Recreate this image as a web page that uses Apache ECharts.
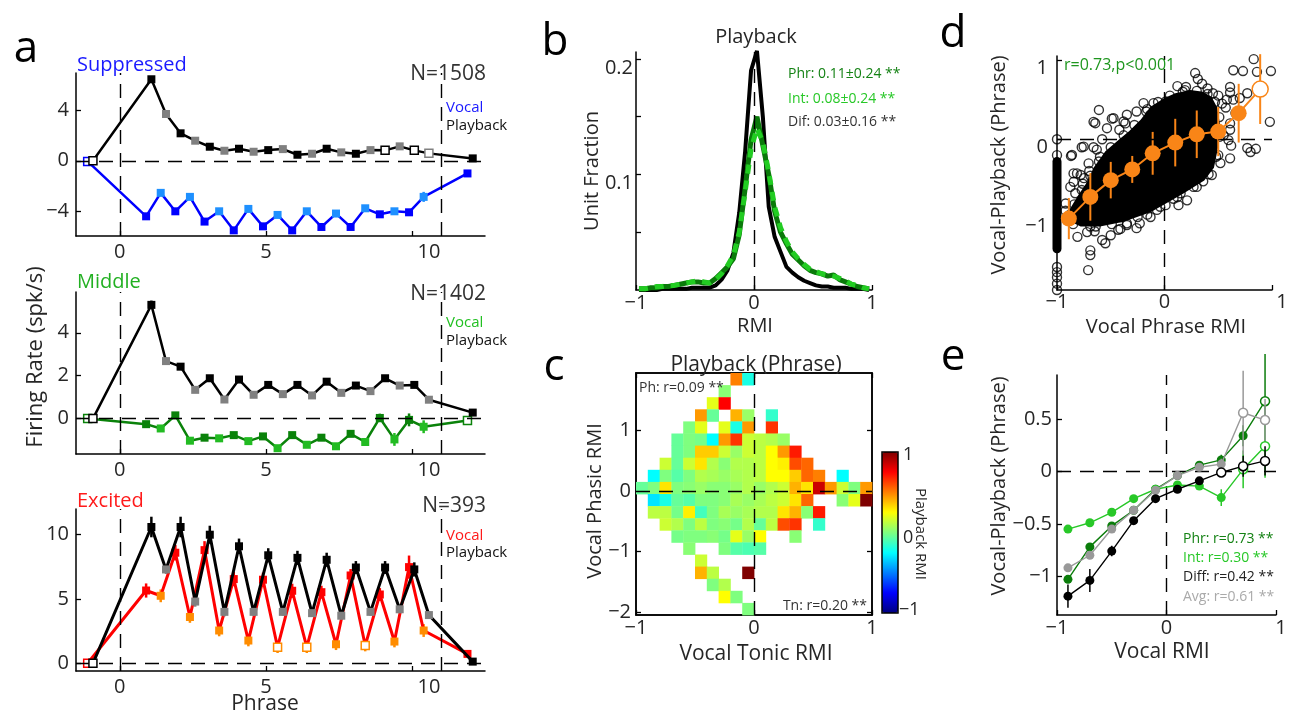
<!DOCTYPE html>
<html>
<head>
<meta charset="utf-8">
<title>Vocal vs playback responses</title>
<script src="https://cdn.jsdelivr.net/npm/echarts@6.0.0/dist/echarts.min.js"></script>
<style>
  html, body { margin: 0; padding: 0; background: #fff; }
  #chart { width: 1290px; height: 715px; }
</style>
</head>
<body>
<div id="chart"></div>
<script>
const _ = null;

// ---------- panel a : firing rate per phrase ----------
const phraseX = [-1, 1, 1.5, 2, 2.5, 3, 3.5, 4, 4.5, 5, 5.5, 6, 6.5, 7, 7.5, 8, 8.5, 9, 9.5, 10, 10.5, 12];
const xTicksA = [0, 5, 10];
const songEndX = 11;

const supPlayback    = [0, 6.5, 3.73, 2.19, 1.6, 1.12, 0.8, 0.96, 0.72, 0.85, 0.93, 0.48, 0.56, 0.96, 0.67, 0.56, 0.85, 0.83, 1.15, 0.83, 0.59, 0.19];
const supPlaybackErr = [0.1, 0.25, 0.2, 0.15, 0.12, 0.12, 0.1, 0.1, 0.1, 0.1, 0.1, 0.1, 0.1, 0.1, 0.1, 0.1, 0.1, 0.1, 0.1, 0.1, 0.15, 0.15];
const supPlaybackOpen = [0, 17, 19, 20];
const supVocal    = [-0.05, -4.43, -2.56, -4.03, -2.88, -4.85, -4.03, -5.55, -3.84, -5.23, -4.32, -5.55, -4.03, -5.28, -4.21, -5.28, -3.79, -4.27, -4.03, -4.11, -2.88, -1.01];
const supVocalErr = [0.15, 0.25, 0.2, 0.2, 0.2, 0.2, 0.2, 0.2, 0.2, 0.2, 0.2, 0.2, 0.2, 0.2, 0.2, 0.2, 0.2, 0.25, 0.2, 0.25, 0.4, 0.2];
const supVocalOpen = [0];
const supTicks = [-4, 0, 4];

const midPlayback    = [0, 5.3, 2.68, 2.42, 1.34, 1.88, 0.89, 1.82, 1.11, 1.57, 1.14, 1.57, 1.08, 1.72, 1.2, 1.54, 1.28, 1.88, 1.54, 1.57, 0.88, 0.28];
const midPlaybackErr = [0.1, 0.2, 0.15, 0.15, 0.12, 0.12, 0.1, 0.12, 0.1, 0.1, 0.1, 0.1, 0.1, 0.1, 0.1, 0.1, 0.1, 0.1, 0.1, 0.1, 0.12, 0.12];
const midPlaybackOpen = [0];
const midVocal    = [0, -0.26, -0.46, 0.15, -1.03, -0.89, -0.92, -0.77, -1.05, -0.83, -1.38, -0.77, -1.22, -0.89, -1.29, -0.71, -1.09, 0.03, -0.97, -0.06, -0.38, -0.09];
const midVocalErr = [0.15, 0.12, 0.12, 0.15, 0.12, 0.12, 0.12, 0.12, 0.12, 0.12, 0.15, 0.12, 0.12, 0.12, 0.12, 0.12, 0.15, 0.2, 0.3, 0.3, 0.3, 0.12];
const midVocalOpen = [0, 21];
const midTicks = [0, 2, 4];

const excPlayback    = [0, 10.6, 7.3, 10.6, 4.8, 10.0, 4.0, 9.1, 4.0, 8.4, 4.0, 8.2, 3.9, 8.05, 3.7, 7.45, 4.0, 7.45, 4.2, 7.3, 3.75, 0.13];
const excPlaybackErr = [0.2, 0.8, 0.35, 0.8, 0.4, 0.7, 0.35, 0.6, 0.3, 0.55, 0.3, 0.55, 0.3, 0.55, 0.3, 0.5, 0.3, 0.5, 0.3, 0.55, 0.3, 0.15];
const excPlaybackOpen = [0];
const excVocal    = [0, 5.66, 5.25, 8.6, 3.6, 8.8, 2.55, 6.55, 1.77, 6.5, 1.25, 5.64, 1.25, 5.53, 1.48, 6.83, 1.38, 5.35, 1.69, 7.48, 2.55, 0.73];
const excVocalErr = [0.3, 0.55, 0.5, 0.6, 0.45, 0.7, 0.45, 0.55, 0.45, 0.55, 0.45, 0.55, 0.45, 0.5, 0.45, 0.5, 0.45, 0.5, 0.45, 0.9, 0.5, 0.2];
const excVocalOpen = [0, 10, 12, 16];
const excTicks = [0, 5, 10];

// ---------- panel b : RMI distributions ----------
const rmiX = [-0.975, -0.925, -0.875, -0.825, -0.775, -0.725, -0.675, -0.625, -0.575, -0.525,
              -0.475, -0.425, -0.375, -0.325, -0.275, -0.225, -0.175, -0.125, -0.075, -0.025,
               0.025,  0.075,  0.125,  0.175,  0.225,  0.275,  0.325,  0.375,  0.425,  0.475,
               0.525,  0.575,  0.625,  0.675,  0.725,  0.775,  0.825,  0.875,  0.925,  0.975];
const difFrac = [0, 0, 0, 0, 0.001, 0.001, 0.001, 0.001, 0.001, 0.002,
                 0.002, 0.002, 0.002, 0.004, 0.009, 0.017, 0.032, 0.067, 0.12, 0.19,
                 0.207, 0.15, 0.072, 0.046, 0.033, 0.02, 0.015, 0.011, 0.008, 0.006,
                 0.004, 0.003, 0.003, 0.002, 0.002, 0.002, 0.001, 0.001, 0.001, 0];
const phrFrac = [0.001, 0.001, 0.002, 0.002, 0.003, 0.003, 0.004, 0.005, 0.006, 0.007,
                 0.007, 0.006, 0.006, 0.01, 0.015, 0.02, 0.027, 0.048, 0.088, 0.13,
                 0.15, 0.125, 0.1, 0.068, 0.05, 0.04, 0.031, 0.026, 0.021, 0.017,
                 0.015, 0.014, 0.012, 0.013, 0.009, 0.007, 0.005, 0.003, 0.002, 0.001];
const intFrac = [0.001, 0.001, 0.002, 0.003, 0.003, 0.004, 0.004, 0.005, 0.006, 0.007,
                 0.008, 0.007, 0.006, 0.009, 0.014, 0.021, 0.03, 0.05, 0.085, 0.122,
                 0.14, 0.128, 0.102, 0.072, 0.054, 0.042, 0.033, 0.027, 0.022, 0.018,
                 0.016, 0.014, 0.013, 0.012, 0.01, 0.008, 0.005, 0.004, 0.002, 0.001];

// ---------- panel c : tonic x phasic map ----------
const heatX = [-0.95, -0.85, -0.75, -0.65, -0.55, -0.45, -0.35, -0.25, -0.15, -0.05,
                0.05,  0.15,  0.25,  0.35,  0.45,  0.55,  0.65,  0.75,  0.85,  0.95];
const heatY = [1.85, 1.65, 1.45, 1.25, 1.05, 0.85, 0.65, 0.45, 0.25, 0.05,
               -0.15, -0.35, -0.55, -0.75, -0.95, -1.15, -1.35, -1.55, -1.75, -1.95];
const heatCell = [0.1, 0.2];
const heatVals = [
  [_,_,_,_,_,_,_,_,0.5,-0.2,_,_,_,_,_,_,_,_,_,_],
  [_,_,_,_,_,_,_,0.02,_,_,_,_,_,_,_,_,_,_,_,_],
  [_,_,_,_,_,_,0.2,0.75,_,_,_,_,_,_,_,_,_,_,_,_],
  [_,_,_,_,_,0.45,-0.05,_,0.4,0.05,_,-0.15,_,_,_,_,_,_,_,_],
  [_,_,_,_,0,0.2,_,0.2,-0.2,0.45,_,0.65,_,_,_,_,_,_,_,_],
  [_,_,_,-0.05,0,-0.02,-0.25,0.45,0.65,0.15,0.12,0.1,0.05,_,_,_,_,_,_,_],
  [_,_,_,-0.05,0,0.35,0.35,0.15,0.05,0.15,0.12,0.25,0.45,0.7,_,_,_,_,_,_],
  [_,_,0.15,-0.05,0.15,0.3,0.1,0.02,0.1,0.1,0.12,0.25,0.28,0.6,0.55,_,_,_,_,_],
  [_,-0.25,0,-0.08,0,0.1,0.08,0.05,0.08,0.1,0.12,0.25,0.25,0.35,0.55,0.5,_,-0.25,_,_],
  [-0.05,0,0.3,0,0.02,0.05,0.02,0.02,0.05,0.1,0.05,0.1,0.15,0.4,0.3,0.85,0.45,0.15,0,0.45],
  [_,-0.3,-0.2,-0.05,-0.08,0,0,0.02,0.08,0.05,0.08,0.12,0.15,0.3,0.55,_,_,0.02,0.2,1.0],
  [_,0.12,0.12,-0.02,0.28,-0.12,0,0.08,0.05,0.08,0.1,0.1,0.3,0.4,0.02,0.7,_,_,_,_],
  [_,_,0.15,0.1,0,0.12,0,0.02,-0.02,0.1,-0.05,0.12,0.6,0.65,_,-0.15,_,_,_,_],
  [_,_,_,-0.02,0,0,0.02,-0.02,0.2,0.05,0.25,_,_,0.02,_,_,_,_,_,_],
  [_,_,_,_,0.02,_,_,0,-0.08,-0.1,-0.08,_,_,_,_,_,_,_,_,_],
  [_,_,_,_,_,0.15,_,_,_,_,_,_,_,_,_,_,_,_,_,_],
  [_,_,_,_,_,0.4,0.12,_,_,1.0,_,_,_,_,_,_,_,_,_,_],
  [_,_,_,_,_,_,0,0.1,_,_,_,_,_,_,_,_,_,_,_,_],
  [_,_,_,_,_,_,_,0.25,0,_,_,_,_,_,_,_,_,_,_,_],
  [_,_,_,_,_,_,_,_,_,0,_,_,_,_,_,_,_,_,_,_]
];
const jet = ['#00007F', '#0000FF', '#007FFF', '#00FFFF', '#7FFF7F', '#FFFF00', '#FF7F00', '#FF0000', '#7F0000'];

// ---------- panel d : vocal vs vocal-playback ----------
// dense core of the cloud (outline) and the column of units at RMI = -1
const dDenseOutline = [
  [-0.90, -1.02], [-0.89, -0.90], [-0.81, -0.72], [-0.72, -0.54], [-0.66, -0.36], [-0.55, -0.15],
  [-0.42, 0.0], [-0.33, 0.10], [-0.22, 0.25], [-0.13, 0.41], [0.00, 0.52], [0.10, 0.58],
  [0.24, 0.62], [0.36, 0.60], [0.44, 0.53], [0.49, 0.40], [0.52, 0.16], [0.50, -0.09],
  [0.46, -0.36], [0.37, -0.52], [0.18, -0.68], [0.05, -0.78], [-0.13, -0.92], [-0.38, -1.04],
  [-0.60, -1.10], [-0.78, -1.10]
];
const dColumnSpan = [[-1, -0.28], [-1, -1.38]];
const dUnits = [
  // top / right
  [0.81, 1.07], [0.83, 1.01], [0.64, 0.87], [0.73, 0.86], [0.86, 0.85], [0.99, 0.86], [0.98, 0.22],
  [0.285, 0.835], [0.31, 0.76], [0.35, 0.70], [0.12, 0.67], [0.19, 0.62], [0.61, 0.66], [0.61, 0.59],
  [0.58, 0.50], [0.64, 0.50], [0.70, 0.52], [0.77, 0.58], [0.535, 0.45], [0.57, 0.40], [0.66, 0.33],
  [0.61, 0.20], [0.61, 0.12], [0.595, -0.01], [0.62, -0.08], [0.77, -0.11], [0.85, -0.12],
  [0.80, -0.16], [0.61, -0.24], [0.52, -0.30], [0.44, -0.45], [0.36, -0.53], [0.30, -0.60],
  [0.15, -0.68], [0.13, -0.83], [0.01, -0.83], [0.084, -0.75], [0.21, -0.77],
  // bottom / left
  [-0.07, -0.89], [-0.13, -0.98], [-0.16, -0.95], [-0.23, -1.06], [-0.26, -1.12], [-0.35, -1.08],
  [-0.43, -1.14], [-0.50, -1.21], [-0.55, -1.31], [-0.58, -1.27], [-0.64, -1.10], [-0.72, -1.17],
  [-0.81, -1.23], [-0.69, -1.40], [-0.69, -1.46], [-0.71, -1.65], [-0.41, -1.13], [-0.41, -0.98],
  [-0.92, -0.81], [-0.83, -0.68], [-0.876, -0.60], [-0.845, -0.536], [-0.846, -0.43], [-0.78, -0.45],
  [-0.75, -0.49], [-0.814, -0.43], [-0.706, -0.304], [-0.861, -0.198], [-0.87, -0.21], [-0.77, -0.10],
  [-0.752, -0.093], [-0.63, -0.13], [-0.66, -0.10], [-0.58, 0.0],
  [-0.61, 0.37], [-0.644, 0.203], [-0.66, 0.22], [-0.49, 0.26], [-0.535, 0.14], [-0.474, 0.266],
  [-0.42, 0.12], [-0.365, 0.20], [-0.35, 0.31], [-0.26, 0.35], [-0.195, 0.456], [-0.133, 0.308],
  [-0.102, 0.456], [0.012, 0.477], [-0.381, 0.224],
  // ragged edge of the dense core
  [-0.88, -0.95], [-0.84, -0.82], [-0.77, -0.64], [-0.69, -0.46], [-0.61, -0.28], [-0.50, -0.10],
  [-0.38, 0.05], [-0.28, 0.18], [-0.17, 0.35], [-0.06, 0.47], [0.05, 0.55], [0.17, 0.60],
  [0.30, 0.61], [0.40, 0.57], [0.47, 0.47], [0.51, 0.28], [0.51, 0.03], [0.48, -0.22],
  [0.41, -0.44], [0.27, -0.60], [0.12, -0.73], [-0.04, -0.85], [-0.25, -0.98], [-0.49, -1.07],
  [-0.69, -1.10], [-0.85, -1.07], [0.45, 0.58], [0.50, 0.55], [0.40, 0.64], [0.20, 0.66],
  [0.55, 0.05], [0.50, -0.20], [-0.35, -1.06], [-0.65, -1.16], [-0.92, -0.90], [-0.76, -0.56],
  [-0.70, -0.40], [-0.60, -0.22], [-0.16, 0.38],
  // column at RMI = -1
  [-1, 0], [-1, -0.2], [-1, -1.61], [-1, -1.675], [-1, -1.74], [-1, -1.82], [-1, -1.9]
];
const dBinX   = [-0.89, -0.69, -0.5, -0.3, -0.11, 0.1, 0.3, 0.5, 0.69, 0.89];
const dBinY   = [-1.0, -0.726, -0.515, -0.38, -0.177, -0.042, 0.063, 0.097, 0.329, 0.633];
const dBinErr = [0.26, 0.3, 0.23, 0.17, 0.27, 0.3, 0.3, 0.31, 0.37, 0.44];
const dBinOpen = [9];

// ---------- panel e : binned means ----------
const eX = [-0.9, -0.7, -0.5, -0.3, -0.1, 0.1, 0.3, 0.5, 0.7, 0.9];
const phrMean  = [-1.03, -0.72, -0.52, -0.37, -0.17, -0.04, 0.06, 0.11, 0.34, 0.67];
const phrErr   = [0.03, 0.03, 0.03, 0.02, 0.02, 0.02, 0.03, 0.05, 0.1, 0.45];
const intMean  = [-0.55, -0.49, -0.39, -0.26, -0.17, -0.13, -0.14, -0.25, 0.02, 0.24];
const intErr   = [0.03, 0.03, 0.03, 0.02, 0.02, 0.02, 0.03, 0.08, 0.18, 0.3];
const diffMean = [-1.19, -1.04, -0.76, -0.47, -0.26, -0.17, -0.09, -0.01, 0.05, 0.10];
const diffErr  = [0.11, 0.11, 0.05, 0.03, 0.02, 0.02, 0.03, 0.04, 0.1, 0.14];
const avgMean  = [-0.92, -0.80, -0.55, -0.37, -0.18, -0.04, 0.04, 0.07, 0.56, 0.49];
const avgErr   = [0.03, 0.03, 0.03, 0.02, 0.02, 0.02, 0.03, 0.05, 0.4, 0.2];
const phrOpen = [9], intOpen = [8, 9], diffOpen = [7, 8, 9], avgOpen = [8, 9];

// ---------- helpers ----------
const FONT = '"Open Sans", "Liberation Sans", sans-serif';
const TICK_COLOR = '#262626';
const VOCAL_SHIFT = -0.1, PLAY_SHIFT = 0.08;
const fmt = v => (v < 0 ? '\u2212' + Math.abs(v) : String(v));
const isInterval = i => i > 0 && i < phraseX.length - 1 && phraseX[i] % 1 !== 0;

// shiftLast: extra left padding on the last tick label (labels in the figure sit right of their tick)
function xAxisFor(g, min, max, ticks, margin, shiftLast) {
  const last = ticks[ticks.length - 1];
  return {
    type: 'value', gridIndex: g, min, max, position: 'bottom',
    splitLine: { show: false },
    axisLine: { show: true, onZero: false, lineStyle: { color: '#000', width: 1.5 } },
    axisTick: { show: true, inside: true, length: 5, customValues: ticks, lineStyle: { color: '#000', width: 1.3 } },
    axisLabel: {
      show: true, customValues: ticks, margin, color: TICK_COLOR, fontSize: 20, fontFamily: FONT,
      formatter: v => (shiftLast && v === last ? '{s|' + fmt(v) + '}' : fmt(v)),
      rich: { s: { padding: [0, 0, 0, shiftLast || 0], color: TICK_COLOR, fontSize: 20, fontFamily: FONT } }
    }
  };
}
// drop: pushes tick labels a few pixels below their tick
function yAxisFor(g, min, max, ticks, margin, drop) {
  const label = { show: true, customValues: ticks, margin, formatter: fmt, color: TICK_COLOR, fontSize: 20, fontFamily: FONT };
  if (drop) { label.verticalAlign = 'top'; label.lineHeight = drop * 2; }
  return {
    type: 'value', gridIndex: g, min, max, position: 'left',
    splitLine: { show: false },
    axisLine: { show: true, onZero: false, lineStyle: { color: '#000', width: 1.5 } },
    axisTick: { show: true, inside: true, length: 5, customValues: ticks, lineStyle: { color: '#000', width: 1.3 } },
    axisLabel: label
  };
}
function refLines(g, xs, ys, z) {
  return {
    type: 'line', xAxisIndex: g, yAxisIndex: g, data: [], z, silent: true,
    markLine: {
      silent: true, symbol: 'none', animation: false, label: { show: false }, emphasis: { disabled: true },
      lineStyle: { color: '#000', width: 1.4, type: [14, 9] },
      data: xs.map(v => ({ xAxis: v })).concat(ys.map(v => ({ yAxis: v })))
    }
  };
}
function errBars(g, xs, ys, errs, colors, width, z) {
  return {
    type: 'custom', xAxisIndex: g, yAxisIndex: g, z: z || 2, silent: true,
    data: xs.map((x, i) => [x, ys[i], errs[i]]),
    renderItem: (params, api) => {
      const x = api.value(0), y = api.value(1), e = api.value(2);
      const lo = api.coord([x, y - e]), hi = api.coord([x, y + e]);
      return { type: 'line', shape: { x1: lo[0], y1: lo[1], x2: hi[0], y2: hi[1] },
               style: { stroke: colors[params.dataIndex], lineWidth: width } };
    }
  };
}
function trace(g, xs, ys, colors, openIdx, lineColor, lineWidth, symbol, size, z) {
  return {
    type: 'line', xAxisIndex: g, yAxisIndex: g, z: z || 3, silent: true,
    symbol, symbolSize: size, showAllSymbol: true,
    lineStyle: { color: lineColor, width: lineWidth }, emphasis: { disabled: true },
    data: xs.map((x, i) => ({
      value: [x, ys[i]],
      itemStyle: openIdx.includes(i)
        ? { color: '#fff', borderColor: colors[i], borderWidth: 1.5 }
        : { color: colors[i], borderColor: colors[i], borderWidth: 0 }
    }))
  };
}
function txt(x, y, text, size, color, align, rot) {
  return {
    type: 'text', x, y, rotation: rot || 0, silent: true, z: 20,
    style: { text, fill: color || '#222', fontSize: size, fontFamily: FONT,
             textAlign: align || 'left', textVerticalAlign: 'middle', align: align || 'left', verticalAlign: 'middle' }
  };
}

// ---------- series ----------
const series = [];

const aPanels = [
  { g: 0, play: supPlayback, playErr: supPlaybackErr, playOpen: supPlaybackOpen,
    voc: supVocal, vocErr: supVocalErr, vocOpen: supVocalOpen, main: '#0000FF', sec: '#1E90FF', width: 2.5 },
  { g: 1, play: midPlayback, playErr: midPlaybackErr, playOpen: midPlaybackOpen,
    voc: midVocal, vocErr: midVocalErr, vocOpen: midVocalOpen, main: '#0A820A', sec: '#22BB22', width: 2.5 },
  { g: 2, play: excPlayback, playErr: excPlaybackErr, playOpen: excPlaybackOpen,
    voc: excVocal, vocErr: excVocalErr, vocOpen: excVocalOpen, main: '#FF0000', sec: '#FF8C00', width: 3 }
];
aPanels.forEach(p => {
  const vx = phraseX.map(x => x + VOCAL_SHIFT);
  const px = phraseX.map(x => x + PLAY_SHIFT);
  const vCol = phraseX.map((x, i) => (isInterval(i) ? p.sec : p.main));
  const pCol = phraseX.map((x, i) => (isInterval(i) ? '#808080' : '#000'));
  series.push(refLines(p.g, [0, songEndX], [0], 1));
  series.push(errBars(p.g, vx, p.voc, p.vocErr, vCol, 2.5, 2));
  series.push(trace(p.g, vx, p.voc, vCol, p.vocOpen, p.main, p.width, 'rect', 8, 3));
  series.push(errBars(p.g, px, p.play, p.playErr, pCol, 2.5, 4));
  series.push(trace(p.g, px, p.play, pCol, p.playOpen, '#000', p.width, 'rect', 8, 5));
});

// panel b
series.push(refLines(3, [0], [], 1));
series.push({ type: 'line', xAxisIndex: 3, yAxisIndex: 3, z: 3, silent: true, symbol: 'none',
  lineStyle: { color: '#000', width: 4 }, data: rmiX.map((x, i) => [x, difFrac[i]]) });
series.push({ type: 'line', xAxisIndex: 3, yAxisIndex: 3, z: 4, silent: true, symbol: 'none',
  lineStyle: { color: '#0A7A0A', width: 5 }, data: rmiX.map((x, i) => [x, phrFrac[i]]) });
series.push({ type: 'line', xAxisIndex: 3, yAxisIndex: 3, z: 5, silent: true, symbol: 'none',
  lineStyle: { color: '#22CC22', width: 5, type: [9, 7] }, data: rmiX.map((x, i) => [x, intFrac[i]]) });

// panel c
const heatData = [];
heatVals.forEach((row, r) => row.forEach((v, c) => { if (v !== null) heatData.push([heatX[c], heatY[r], v]); }));
const heatSeriesIndex = series.length;
series.push({
  type: 'custom', xAxisIndex: 4, yAxisIndex: 4, z: 2, silent: true, data: heatData,
  renderItem: (params, api) => {
    const tl = api.coord([api.value(0) - heatCell[0] / 2, api.value(1) + heatCell[1] / 2]);
    const sz = api.size(heatCell);
    return { type: 'rect', shape: { x: tl[0], y: tl[1], width: sz[0] + 0.4, height: sz[1] + 0.4 },
             style: { fill: api.visual('color') } };
  }
});
series.push(refLines(4, [0], [0], 6));

// panel d
series.push(refLines(5, [0], [0], 1));
series.push({
  type: 'custom', xAxisIndex: 5, yAxisIndex: 5, z: 2, silent: true, data: [0],
  renderItem: (params, api) => ({ type: 'polygon', shape: { points: dDenseOutline.map(p => api.coord(p)) },
                                   style: { fill: '#000' } })
});
series.push({ type: 'line', xAxisIndex: 5, yAxisIndex: 5, z: 2, silent: true, symbol: 'none',
  lineStyle: { color: '#000', width: 9, cap: 'round' }, data: dColumnSpan });
series.push({ type: 'scatter', xAxisIndex: 5, yAxisIndex: 5, z: 3, silent: true, symbol: 'circle', symbolSize: 9,
  itemStyle: { color: 'rgba(0,0,0,0)', borderColor: '#000', borderWidth: 1.4 }, data: dUnits });
const orange = dBinX.map(() => '#F98517');
series.push(errBars(5, dBinX, dBinY, dBinErr, orange, 2, 4));
series.push(trace(5, dBinX, dBinY, orange, dBinOpen, '#F98517', 2, 'circle', 16, 5));

// panel e
series.push(refLines(6, [0], [0], 1));
[
  { m: phrMean, e: phrErr, o: phrOpen, c: '#0B7D0B' },
  { m: intMean, e: intErr, o: intOpen, c: '#28C828' },
  { m: avgMean, e: avgErr, o: avgOpen, c: '#999999' },
  { m: diffMean, e: diffErr, o: diffOpen, c: '#000000' }
].forEach((s, k) => {
  const cols = eX.map(() => s.c);
  series.push(errBars(6, eX, s.m, s.e, cols, 1.5, 2 + k * 2));
  series.push(trace(6, eX, s.m, cols, s.o, s.c, 1.4, 'circle', 9, 3 + k * 2));
});

// ---------- texts ----------
const graphics = [
  txt(26, 49, 'a', 44, '#000', 'center'),
  txt(555, 42, 'b', 44, '#000', 'center'),
  txt(554, 367, 'c', 44, '#000', 'center'),
  txt(953, 34, 'd', 44, '#000', 'center'),
  txt(953, 357, 'e', 44, '#000', 'center'),

  txt(77, 65, 'Suppressed', 20, '#1A1AFF'),
  txt(486, 74, 'N=1508', 21, '#333', 'right'),
  txt(446, 108, 'Vocal', 15, '#1A1AFF'),
  txt(446, 126, 'Playback', 15, '#111'),
  txt(77, 282, 'Middle', 20, '#22B022'),
  txt(486, 294, 'N=1402', 21, '#333', 'right'),
  txt(446, 323, 'Vocal', 15, '#22C022'),
  txt(446, 341, 'Playback', 15, '#111'),
  txt(77, 501, 'Excited', 20, '#FF1A1A'),
  txt(486, 506, 'N=393', 21, '#333', 'right'),
  txt(446, 536, 'Vocal', 15, '#FF1A1A'),
  txt(446, 553, 'Playback', 15, '#111'),
  txt(36, 357, 'Firing Rate (spk/s)', 22, '#262626', 'center', Math.PI / 2),
  txt(265, 704, 'Phrase', 21, '#262626', 'center'),

  txt(756, 37, 'Playback', 20, '#262626', 'center'),
  txt(592, 171, 'Unit Fraction', 20, '#262626', 'center', Math.PI / 2),
  txt(755, 326, 'RMI', 20, '#262626', 'center'),
  txt(788, 74, 'Phr: 0.11\u00b10.24 **', 14, '#148214'),
  txt(788, 99, 'Int: 0.08\u00b10.24 **', 14, '#28C828'),
  txt(788, 122, 'Dif: 0.03\u00b10.16 **', 14, '#333'),

  txt(756, 365, 'Playback (Phrase)', 21, '#262626', 'center'),
  txt(639, 388, 'Ph: r=0.09 **', 14, '#333'),
  txt(867, 606, 'Tn: r=0.20 **', 14, '#333', 'right'),
  txt(595, 501, 'Vocal Phasic RMI', 20, '#262626', 'center', Math.PI / 2),
  txt(756, 654, 'Vocal Tonic RMI', 21, '#262626', 'center'),
  { type: 'rect', x: 882, y: 452, z: 20, silent: true, shape: { width: 16, height: 161 },
    style: { fill: 'none', stroke: '#000', lineWidth: 1.5 } },
  txt(903, 455, '1', 18, '#262626'),
  txt(903, 538, '0', 18, '#262626'),
  txt(899, 610, '\u22121', 18, '#262626'),
  txt(920, 534, 'Playback RMI', 15, '#262626', 'center', -Math.PI / 2),

  txt(999, 165, 'Vocal-Playback (Phrase)', 20, '#262626', 'center', Math.PI / 2),
  txt(1166, 327, 'Vocal Phrase RMI', 20, '#262626', 'center'),
  txt(1064, 65, 'r=0.73,p<0.001', 16, '#1E961E'),

  txt(999, 486, 'Vocal-Playback (Phrase)', 20, '#262626', 'center', Math.PI / 2),
  txt(1162, 652, 'Vocal RMI', 21, '#262626', 'center'),
  txt(1183, 539, 'Phr: r=0.73 **', 14, '#148214'),
  txt(1183, 558, 'Int: r=0.30 **', 14, '#28C828'),
  txt(1183, 577, 'Diff: r=0.42 **', 14, '#222'),
  txt(1183, 597, 'Avg: r=0.61 **', 14, '#AAAAAA')
];

const option = {
  animation: false,
  backgroundColor: '#fff',
  textStyle: { fontFamily: FONT },
  grid: [
    { left: 76, top: 73, width: 409, height: 163, outerBoundsMode: 'none' },
    { left: 76, top: 292, width: 409, height: 162, outerBoundsMode: 'none' },
    { left: 76, top: 509, width: 409, height: 162, outerBoundsMode: 'none' },
    { left: 636, top: 52, width: 236, height: 238, outerBoundsMode: 'none' },
    { left: 636, top: 373, width: 236, height: 242, outerBoundsMode: 'none',
      show: true, borderColor: '#000', borderWidth: 1.5, backgroundColor: 'transparent' },
    { left: 1057, top: 56, width: 215, height: 234, outerBoundsMode: 'none' },
    { left: 1057, top: 375, width: 219, height: 240, outerBoundsMode: 'none' }
  ],
  xAxis: [
    xAxisFor(0, -1.5, 12.5, xTicksA, 6, 34),
    xAxisFor(1, -1.5, 12.5, xTicksA, 6, 34),
    xAxisFor(2, -1.5, 12.5, xTicksA, 6, 34),
    xAxisFor(3, -1, 1, [-1, 0, 1], 3),
    xAxisFor(4, -1, 1, [-1, 0, 1], 3),
    xAxisFor(5, -1, 1, [-1, 0, 1], 2, 20),
    xAxisFor(6, -1, 1, [-1, 0, 1], 3, 10),
    Object.assign(xAxisFor(4, -1, 1, [-1, 0, 1], 3), { position: 'top', axisLabel: { show: false } })
  ],
  yAxis: [
    yAxisFor(0, -6, 7, supTicks, 7),
    yAxisFor(1, -1.65, 5.9, midTicks, 7),
    yAxisFor(2, -0.6, 12, excTicks, 7),
    Object.assign(yAxisFor(3, 0, 0.206, [0.1, 0.2], 3, 9), {
      axisTick: { show: true, inside: true, length: 5, customValues: [0.05, 0.1, 0.15, 0.2], lineStyle: { color: '#000', width: 1.3 } }
    }),
    yAxisFor(4, -2.05, 1.95, [-2, -1, 0, 1], 5),
    yAxisFor(5, -1.9, 1.05, [-1, 0, 1], 9, 8),
    yAxisFor(6, -1.37, 0.92, [-1, -0.5, 0, 0.5], 5),
    Object.assign(yAxisFor(4, -2.05, 1.95, [-2, -1, 0, 1], 5), { position: 'right', axisLabel: { show: false } })
  ],
  visualMap: [{
    type: 'continuous', seriesIndex: heatSeriesIndex, dimension: 2, min: -1, max: 1,
    inRange: { color: jet }, orient: 'vertical', left: 882, top: 452, itemWidth: 16, itemHeight: 161,
    padding: 0, calculable: false, showLabel: false, hoverLink: false, text: null
  }],
  graphic: { elements: graphics },
  series
};

const chart = echarts.init(document.getElementById('chart'), null, { renderer: 'canvas' });
chart.setOption(option);
window.addEventListener('resize', () => chart.resize());
</script>
</body>
</html>
